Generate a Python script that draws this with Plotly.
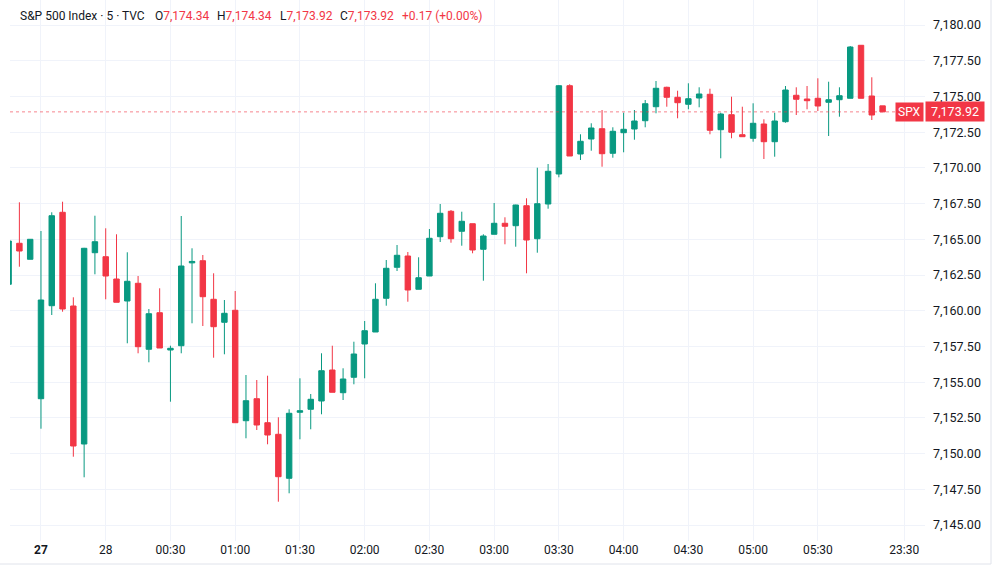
import plotly.graph_objects as go

# ---- data (5-minute S&P 500 candles) ----
opens = [7161.85, 7164.72, 7163.60, 7153.84, 7160.35, 7166.89, 7160.33, 7150.67, 7164.06, 7163.78,
         7162.22, 7160.68, 7161.92, 7157.30, 7159.86, 7157.25, 7157.55, 7163.35, 7163.50, 7160.80,
         7159.19, 7160.03, 7152.30, 7153.84, 7152.16, 7151.35, 7148.27, 7152.89, 7153.10, 7153.68,
         7155.85, 7154.26, 7155.34, 7157.67, 7158.51, 7160.87, 7163.04, 7163.83, 7161.50, 7162.43,
         7165.18, 7166.96, 7165.56, 7166.09, 7164.30, 7165.35, 7166.12, 7165.95, 7167.35, 7165.04,
         7167.47, 7169.57, 7175.75, 7170.97, 7172.02, 7172.74, 7171.02, 7172.46, 7172.72, 7173.30,
         7174.28, 7175.64, 7174.94, 7174.45, 7174.89, 7175.15, 7172.67, 7173.72, 7172.32, 7172.07,
         7173.07, 7171.83, 7173.23, 7175.08, 7174.82, 7174.87, 7174.59, 7174.77, 7174.87, 7178.58,
         7175.03, 7174.34]
highs = [7164.90, 7167.59, 7165.00, 7165.58, 7166.89, 7167.63, 7160.94, 7164.40, 7166.65, 7165.77,
         7165.35, 7164.09, 7162.43, 7160.12, 7161.57, 7157.55, 7166.63, 7164.37, 7163.90, 7162.62,
         7160.75, 7161.38, 7155.50, 7155.15, 7155.45, 7152.54, 7153.10, 7155.27, 7154.17, 7157.02,
         7157.55, 7155.97, 7157.83, 7159.28, 7161.92, 7163.55, 7164.60, 7164.11, 7163.74, 7165.72,
         7167.47, 7167.05, 7166.93, 7166.09, 7165.35, 7167.54, 7166.54, 7167.42, 7167.87, 7170.01,
         7170.27, 7175.80, 7175.85, 7172.35, 7173.12, 7174.05, 7172.84, 7173.86, 7174.05, 7174.75,
         7176.08, 7175.68, 7175.40, 7175.92, 7175.64, 7175.54, 7173.86, 7174.98, 7174.28, 7174.52,
         7173.40, 7173.86, 7175.73, 7175.64, 7175.73, 7176.27, 7176.03, 7175.64, 7178.53, 7178.60,
         7176.34, 7174.34]
lows = [7161.80, 7163.08, 7163.60, 7151.74, 7159.70, 7159.93, 7149.78, 7148.34, 7162.55, 7160.80,
        7160.59, 7157.72, 7157.02, 7156.39, 7157.39, 7153.63, 7157.02, 7159.12, 7158.93, 7156.71,
        7156.95, 7152.16, 7151.07, 7151.65, 7150.65, 7146.63, 7147.22, 7151.00, 7151.70, 7152.75,
        7154.29, 7153.75, 7154.85, 7155.27, 7158.51, 7160.35, 7162.78, 7160.63, 7161.50, 7162.43,
        7164.81, 7164.76, 7164.55, 7164.02, 7162.10, 7165.35, 7164.65, 7164.48, 7162.62, 7164.06,
        7167.14, 7169.34, 7170.83, 7170.55, 7171.20, 7170.08, 7170.71, 7171.09, 7171.97, 7172.84,
        7173.82, 7174.28, 7173.47, 7174.10, 7174.24, 7172.35, 7170.67, 7172.07, 7172.18, 7171.83,
        7170.62, 7170.78, 7173.16, 7173.70, 7174.10, 7173.98, 7172.23, 7173.58, 7174.87, 7174.87,
        7173.35, 7173.92]
closes = [7164.88, 7164.18, 7165.00, 7160.75, 7166.65, 7160.12, 7150.53, 7164.37, 7164.83, 7162.43,
          7160.59, 7162.06, 7157.48, 7159.79, 7157.39, 7157.37, 7163.13, 7163.45, 7160.98, 7158.88,
          7159.82, 7152.16, 7153.70, 7152.00, 7151.30, 7148.38, 7152.82, 7153.00, 7153.80, 7155.80,
          7154.29, 7155.22, 7156.97, 7158.60, 7160.80, 7162.97, 7163.88, 7161.45, 7162.31, 7165.07,
          7166.82, 7165.04, 7166.26, 7164.25, 7165.23, 7166.12, 7165.91, 7167.40, 7164.95, 7167.49,
          7169.76, 7175.75, 7170.83, 7171.86, 7172.79, 7170.99, 7172.56, 7172.70, 7173.28, 7174.49,
          7175.57, 7174.94, 7174.56, 7174.84, 7175.17, 7172.63, 7173.77, 7172.49, 7172.18, 7173.12,
          7171.83, 7173.28, 7175.45, 7174.80, 7174.70, 7174.33, 7174.77, 7175.05, 7178.46, 7174.87,
          7173.70, 7173.92]
bar_index = list(range(len(opens)))

time_tick_pos = [3, 9, 15, 21, 27, 33, 39, 45, 51, 57, 63, 69, 75, 83]
time_tick_labels = ["<b>27</b>", "28", "00:30", "01:00", "01:30", "02:00", "02:30", "03:00",
                    "03:30", "04:00", "04:30", "05:00", "05:30", "23:30"]

symbol = "SPX"
title_text = "S&P 500 Index · 5 · TVC"
last_open, last_high, last_low, last_close = 7174.34, 7174.34, 7173.92, 7173.92
change, change_pct = 0.17, 0.00

# ---- style ----
GREEN = "#089981"
RED = "#F23645"
TEXT = "#131722"
GRID = "#f0f3fa"
FONT = "Roboto"

W, H = 1000, 566
L, R, T, B = 10, 75, 0, 25
PW, PH = W - L - R, H - T - B


def px_x(px):
    return (px - L) / PW


def px_y(py):
    return 1 - (py - T) / PH


fig = go.Figure()
fig.add_trace(go.Candlestick(
    x=bar_index, open=opens, high=highs, low=lows, close=closes,
    increasing=dict(line=dict(color=GREEN, width=1), fillcolor=GREEN),
    decreasing=dict(line=dict(color=RED, width=1), fillcolor=RED),
    whiskerwidth=0, hoverinfo="skip", showlegend=False,
))

fig.update_layout(
    width=W, height=H,
    margin=dict(l=L, r=R, t=T, b=B),
    paper_bgcolor="white", plot_bgcolor="white",
    boxgap=0.28,
    font=dict(family=FONT, size=12, color=TEXT),
    xaxis=dict(
        range=[0.13, 84.93], rangeslider=dict(visible=False),
        tickmode="array", tickvals=time_tick_pos, ticktext=time_tick_labels,
        showgrid=True, gridcolor=GRID, gridwidth=1, zeroline=False,
        showline=False, ticks="", tickfont=dict(size=12, color=TEXT),
        fixedrange=True,
    ),
    yaxis=dict(
        side="right", range=[7143.88, 7181.75], tick0=7145, dtick=2.5,
        tickformat=",.2f", showgrid=True, gridcolor=GRID, gridwidth=1,
        zeroline=False, showline=False, ticks="", ticklabelstandoff=7,
        tickfont=dict(size=12.5, color=TEXT), fixedrange=True,
    ),
)

# last price dotted line
fig.add_shape(type="line", xref="paper", yref="y",
              x0=0, x1=px_x(896), y0=last_close, y1=last_close,
              line=dict(color=RED, width=1, dash="dot"), opacity=0.6)

# outer borders
fig.add_shape(type="line", xref="paper", yref="paper",
              x0=px_x(991), x1=px_x(991), y0=px_y(0), y1=px_y(564),
              line=dict(color="#e0e3eb", width=1))
fig.add_shape(type="line", xref="paper", yref="paper",
              x0=px_x(0), x1=px_x(991), y0=px_y(564), y1=px_y(564),
              line=dict(color="#e0e3eb", width=1))

# price labels
fig.add_annotation(xref="paper", yref="y", x=px_x(909.5), y=last_close,
                   text=symbol, showarrow=False, bgcolor=RED,
                   font=dict(color="white", size=12, family=FONT),
                   borderpad=2, xanchor="center", yanchor="middle")
fig.add_annotation(xref="paper", yref="y", x=px_x(954.5), y=last_close,
                   text=f" {last_close:,.2f} ", showarrow=False, bgcolor=RED,
                   font=dict(color="white", size=12.5, family=FONT),
                   borderpad=2, xanchor="center", yanchor="middle")

# header
hy = px_y(16)
hfont = dict(family=FONT, size=12, color=TEXT)
fig.add_annotation(xref="paper", yref="paper", x=px_x(18), y=hy, text=title_text,
                   showarrow=False, xanchor="left", yanchor="middle", font=hfont)
vals = [("O", last_open, 153), ("H", last_high, 215), ("L", last_low, 278), ("C", last_close, 338)]
for lab, v, xp in vals:
    fig.add_annotation(xref="paper", yref="paper", x=px_x(xp), y=hy,
                       text=f"{lab}<span style='color:{RED}'>{v:,.2f}</span>",
                       showarrow=False, xanchor="left", yanchor="middle", font=hfont)
fig.add_annotation(xref="paper", yref="paper", x=px_x(400), y=hy,
                   text=f"+{change:.2f} (+{change_pct:.2f}%)",
                   showarrow=False, xanchor="left", yanchor="middle",
                   font=dict(family=FONT, size=12, color=RED))

fig.write_html("out.html", config=dict(displayModeBar=False))
